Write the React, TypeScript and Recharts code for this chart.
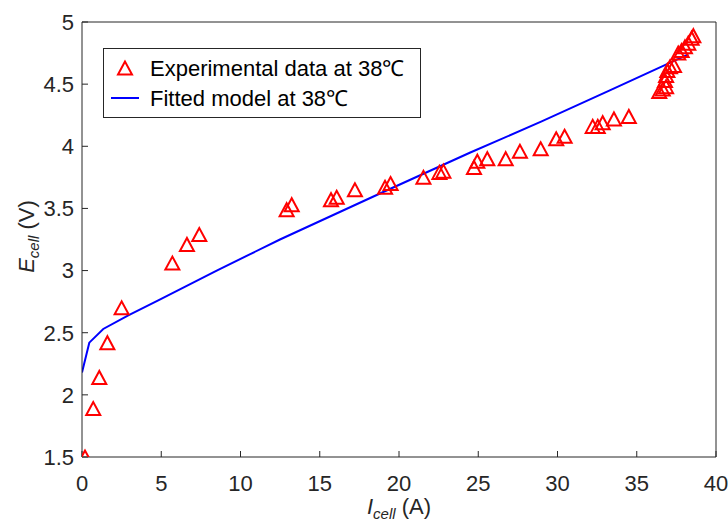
import { ComposedChart, Scatter, Line, XAxis, YAxis, Legend, Label } from "recharts"

// experimental points at 38°C
const expCurrent = [
  0.19, 0.71, 1.09, 1.6, 2.5, 5.7, 6.62, 7.4, 12.91, 13.23, 15.71, 16.07, 17.22, 19.12, 19.47,
  21.54, 22.55, 22.8, 24.73, 24.94, 25.57, 26.73, 27.63, 28.94, 29.92, 30.45, 32.22, 32.54,
  32.85, 33.56, 34.5, 36.42, 36.64, 36.85, 36.78, 36.85, 36.93, 37.1, 37.35, 37.62, 37.83,
  38.04, 38.25, 38.46, 38.57,
]
const expVoltage = [
  1.5, 1.89, 2.14, 2.42, 2.7, 3.06, 3.21, 3.29, 3.49, 3.53, 3.57, 3.59, 3.65, 3.67, 3.7,
  3.75, 3.79, 3.8, 3.83, 3.88, 3.9, 3.9, 3.96, 3.98, 4.06, 4.08, 4.16, 4.16,
  4.19, 4.22, 4.24, 4.44, 4.46, 4.48, 4.53, 4.57, 4.61, 4.64, 4.65, 4.75, 4.77,
  4.8, 4.83, 4.87, 4.89,
]

// fitted model curve
const fitCurrent = [0, 0.46, 1.34, 2.92, 4.81, 8.5, 12.49, 18.8, 24.5, 29, 33.3, 38.25]
const fitVoltage = [2.18, 2.42, 2.53, 2.64, 2.76, 3.0, 3.25, 3.62, 3.95, 4.2, 4.45, 4.74]

const xTicks = [0, 5, 10, 15, 20, 25, 30, 35, 40]
const yTicks = [1.5, 2, 2.5, 3, 3.5, 4, 4.5, 5]

const expData = expCurrent.map((x, i) => ({ x, y: expVoltage[i] }))
const fitData = fitCurrent.map((x, i) => ({ x, y: fitVoltage[i] }))

const FONT = "'Liberation Sans', Arial, Helvetica, sans-serif"
const AXIS = "#262626"
const RED = "#ff0000"
const BLUE = "#0000ff"

function Triangle(props: any) {
  const { cx, cy } = props
  if (cx == null || cy == null) return <g />
  return (
    <polygon
      points={`${cx},${cy - 6.5} ${cx - 7},${cy + 6.5} ${cx + 7},${cy + 6.5}`}
      fill="none"
      stroke={RED}
      strokeWidth={2}
    />
  )
}

function LegendBox(props: any) {
  const items = props.payload || []
  return (
    <svg width={318} height={70} style={{ display: "block" }}>
      <rect x={0.5} y={0.5} width={317} height={69} fill="#fff" stroke={AXIS} />
      {items.map((entry: any, i: number) => {
        const cy = 20 + i * 30
        return (
          <g key={i}>
            {entry.type === "line" ? (
              <line x1={8} x2={36} y1={cy} y2={cy} stroke={BLUE} strokeWidth={2} />
            ) : (
              <polygon
                points={`22,${cy - 6.5} 15,${cy + 6.5} 29,${cy + 6.5}`}
                fill="none"
                stroke={RED}
                strokeWidth={2}
              />
            )}
            <text x={47} y={cy + 7.5} fontSize={22} fontFamily={FONT} fill="#000">
              {entry.value}
            </text>
          </g>
        )
      })}
    </svg>
  )
}

function XTitle(props: any) {
  const { x, y, width } = props.viewBox
  return (
    <text x={x + width / 2} y={y + 57} textAnchor="middle" fontSize={22} fontFamily={FONT} fill={AXIS}>
      <tspan fontStyle="italic">I</tspan>
      <tspan fontStyle="italic" fontSize={15} dy={5}>cell</tspan>
      <tspan dy={-5}>{" (A)"}</tspan>
    </text>
  )
}

function YTitle(props: any) {
  const { x, y, height } = props.viewBox
  const cx = x + 12
  const cy = y + height / 2 - 3
  return (
    <text
      x={cx}
      y={cy}
      transform={`rotate(-90, ${cx}, ${cy})`}
      textAnchor="middle"
      fontSize={22}
      fontFamily={FONT}
      fill={AXIS}
    >
      <tspan fontStyle="italic">E</tspan>
      <tspan fontStyle="italic" fontSize={15} dy={5}>cell</tspan>
      <tspan dy={-5}>{" (V)"}</tspan>
    </text>
  )
}

const tickStyle = { fontSize: 22, fill: AXIS, fontFamily: FONT }

export default function App() {
  return (
    <div style={{ position: "absolute", left: 0, top: 0, background: "#fff" }}>
      <ComposedChart width={728} height={524} margin={{ top: 21, right: 11, bottom: 7, left: 22 }}>
        <XAxis
          dataKey="x"
          type="number"
          domain={[0, 40]}
          ticks={xTicks}
          height={60}
          stroke={AXIS}
          tickSize={-6}
          tickMargin={24}
          tick={tickStyle}
          allowDataOverflow
        >
          <Label content={XTitle} />
        </XAxis>
        <XAxis
          xAxisId="top"
          orientation="top"
          type="number"
          domain={[0, 40]}
          ticks={xTicks}
          height={1}
          stroke={AXIS}
          tickSize={-6}
          tick={false}
        />
        <YAxis
          dataKey="y"
          type="number"
          domain={[1.5, 5]}
          ticks={yTicks}
          width={60}
          stroke={AXIS}
          tickSize={-6}
          tickMargin={14}
          tick={tickStyle}
          allowDataOverflow
        >
          <Label content={YTitle} />
        </YAxis>
        <YAxis
          yAxisId="right"
          orientation="right"
          type="number"
          domain={[1.5, 5]}
          ticks={yTicks}
          width={1}
          stroke={AXIS}
          tickSize={-6}
          tick={false}
        />
        <Legend
          layout="horizontal"
          verticalAlign="middle"
          align="center"
          content={LegendBox}
          wrapperStyle={{ left: 103, top: 48, width: 318, height: 70 }}
        />
        <Scatter
          data={expData}
          dataKey="y"
          name="Experimental data at 38℃"
          legendType="triangle"
          shape={Triangle}
          isAnimationActive={false}
        />
        <Line
          data={fitData}
          dataKey="y"
          type="linear"
          name="Fitted model at 38℃"
          legendType="line"
          stroke={BLUE}
          strokeWidth={2}
          dot={false}
          activeDot={false}
          isAnimationActive={false}
        />
      </ComposedChart>
    </div>
  )
}
